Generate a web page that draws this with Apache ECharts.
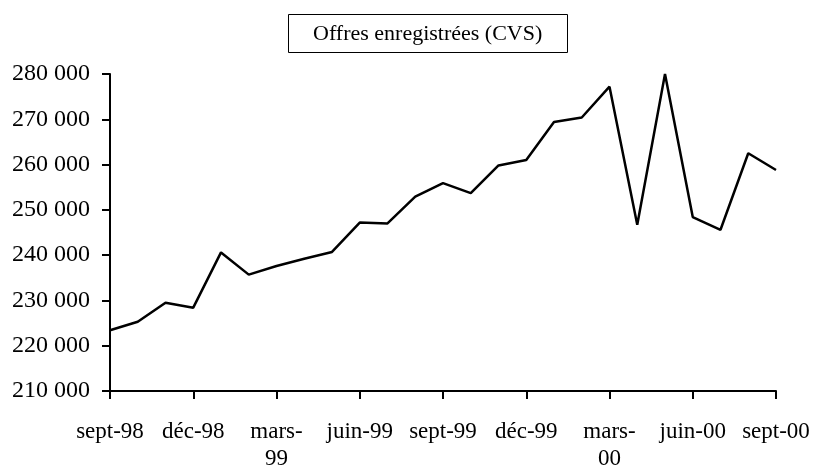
<!DOCTYPE html>
<html>
<head>
<meta charset="utf-8">
<script src="https://cdn.jsdelivr.net/npm/echarts@6/dist/echarts.min.js"></script>
<style>
  html, body { margin: 0; padding: 0; background: #fff; }
  #main { width: 813px; height: 469px; }
</style>
</head>
<body>
<div id="main"></div>
<script>
// mois (sept-98 .. sept-00)
var months = ['sept-98', 'oct-98', 'nov-98', 'déc-98', 'janv-99', 'févr-99', 'mars-99',
  'avr-99', 'mai-99', 'juin-99', 'juil-99', 'août-99', 'sept-99', 'oct-99', 'nov-99',
  'déc-99', 'janv-00', 'févr-00', 'mars-00', 'avr-00', 'mai-00', 'juin-00', 'juil-00',
  'août-00', 'sept-00'];

// Offres enregistrées (CVS)
var offres = [223400, 225300, 229500, 228400, 240600, 235700, 237600, 239200, 240700,
  247200, 247000, 252900, 255900, 253700, 259800, 261000, 269400, 270400, 277200,
  246700, 280000, 248400, 245600, 262500, 258800];

var yTicks = { min: 210000, max: 280000, step: 10000 };

var chartDom = document.getElementById('main');
var myChart = echarts.init(chartDom);

var font = 'Liberation Serif, Times New Roman, serif';

var option = {
  animation: false,
  backgroundColor: '#fff',
  title: {
    text: 'Offres enregistrées (CVS)',
    left: 288,
    top: 14,
    padding: [9, 25, 8, 25],
    borderWidth: 1,
    borderColor: '#000',
    textStyle: { fontFamily: font, fontSize: 22, fontWeight: 'normal', color: '#000' }
  },
  grid: { left: 110, right: 37, top: 74, bottom: 78, outerBoundsMode: 'none' },
  xAxis: {
    type: 'category',
    data: months,
    boundaryGap: false,
    axisLine: { lineStyle: { color: '#000', width: 2 } },
    axisTick: { interval: 2, length: 8, lineStyle: { color: '#000', width: 2 } },
    axisLabel: {
      interval: 2,
      margin: 27,
      color: '#000',
      fontFamily: font,
      fontSize: 23,
      lineHeight: 27,
      formatter: function (v) {
        return v.indexOf('mars-') === 0 ? v.replace('-', '-\n') : v;
      }
    },
    splitLine: { show: false }
  },
  yAxis: {
    type: 'value',
    min: yTicks.min,
    max: yTicks.max,
    interval: yTicks.step,
    axisLine: { show: true, lineStyle: { color: '#000', width: 2 } },
    axisTick: { show: true, length: 8, lineStyle: { color: '#000', width: 2 } },
    axisLabel: {
      margin: 20,
      color: '#000',
      fontFamily: font,
      fontSize: 24,
      formatter: function (v) {
        return String(v).replace(/\B(?=(\d{3})+(?!\d))/g, ' ');
      }
    },
    splitLine: { show: false }
  },
  series: [
    {
      name: 'Offres enregistrées (CVS)',
      type: 'line',
      data: offres,
      symbol: 'none',
      lineStyle: { color: '#000', width: 2.5 }
    }
  ]
};

myChart.setOption(option);
</script>
</body>
</html>
